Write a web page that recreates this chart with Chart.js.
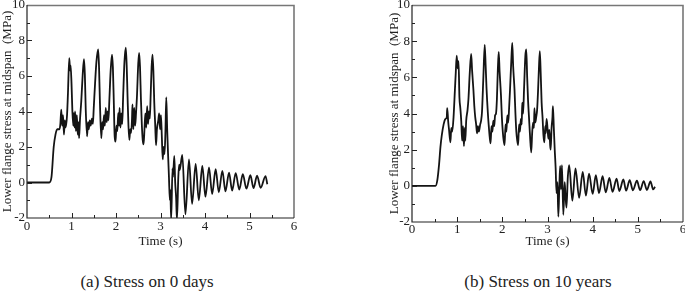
<!DOCTYPE html>
<html><head><meta charset="utf-8">
<script src="https://cdn.jsdelivr.net/npm/chart.js@4.4.1/dist/chart.umd.min.js"></script>
<style>
html,body{margin:0;padding:0;background:#fff;width:685px;height:297px;overflow:hidden;}
.wrap{position:absolute;top:0;width:300px;height:250px;}
.cap{position:absolute;top:272px;font-family:"Liberation Serif",serif;font-size:17px;color:#222;white-space:nowrap;transform:translateX(-50%);}
</style></head>
<body>
<div class="wrap" style="left:0"><canvas id="c0" width="300" height="250"></canvas></div>
<div class="wrap" style="left:385px"><canvas id="c1" width="300" height="250"></canvas></div>
<div class="cap" style="left:147px">(a) Stress on 0 days</div>
<div class="cap" style="left:538px">(b) Stress on 10 years</div>
<script>
const xTitle = 'Time (s)';
const yTitle = 'Lower flange stress at midspan  (MPa)';
const captions = ['(a) Stress on 0 days', '(b) Stress on 10 years'];
const xTicks = [0, 1, 2, 3, 4, 5, 6];
const yTicks = [-2, 0, 2, 4, 6, 8, 10];

// (a) 0 days
const time0 = [0,0.5,0.55,0.6,0.64,0.68,0.73,0.75,0.77,0.79,0.81,0.83,0.85,0.87,0.90,0.92,0.95,0.97,0.98,1.00,1.02,1.04,1.05,1.07,1.08,1.10,1.12,1.14,1.16,1.17,1.19,1.22,1.25,1.28,1.30,1.32,1.35,1.37,1.39,1.41,1.43,1.46,1.48,1.50,1.53,1.56,1.60,1.62,1.64,1.67,1.69,1.71,1.73,1.75,1.77,1.79,1.81,1.83,1.85,1.88,1.91,1.93,1.95,1.97,1.99,2.01,2.03,2.05,2.07,2.08,2.10,2.12,2.14,2.16,2.19,2.22,2.24,2.26,2.28,2.30,2.32,2.34,2.36,2.37,2.39,2.41,2.43,2.45,2.47,2.50,2.52,2.54,2.56,2.58,2.60,2.62,2.64,2.66,2.68,2.70,2.72,2.74,2.76,2.78,2.80,2.82,2.84,2.86,2.88,2.90,2.92,2.95,2.97,2.99,3.01,3.03,3.05,3.07,3.09,3.11,3.13,3.15,3.17,3.19,3.21,3.22,3.24,3.27,3.28,3.31,3.33,3.35,3.37,3.40,3.42,3.43,3.49,3.56,3.64,3.71,3.79,3.86,3.94,4.01,4.09,4.16,4.24,4.31,4.39,4.46,4.54,4.61,4.69,4.77,4.85,4.93,5.02,5.09,5.17,5.25,5.36,5.40];
const stress0 = [0,0,0.3,2.0,2.7,3.0,3.0,3.3,4.1,3.2,3.8,2.7,3.5,3.1,3.8,5.0,7.0,6.3,6.6,5.6,4.0,3.2,3.9,3.1,4.0,2.9,3.8,2.7,3.4,2.5,3.5,4.6,6.0,6.95,6.1,4.1,2.6,3.4,3.0,3.5,3.2,3.6,3.3,4.2,5.6,6.8,7.5,6.4,4.4,2.5,3.4,3.0,3.8,3.2,4.2,3.4,4.0,3.5,4.6,6.3,7.2,6.5,4.6,2.6,2.3,3.2,2.9,3.9,3.2,4.2,3.1,3.9,3.3,4.8,6.8,7.6,6.6,4.8,3.2,2.4,3.0,2.8,3.6,4.4,3.0,4.2,3.2,3.9,4.8,6.7,7.3,6.5,4.7,3.3,2.4,2.15,3.0,3.9,3.1,4.3,3.3,4.0,3.6,5.0,6.5,7.2,6.3,4.5,3.3,2.1,3.0,3.5,3.9,3.0,3.8,2.6,1.3,2.0,1.6,2.8,4.8,3.0,1.6,0.3,-1.0,-0.4,-2.1,0.8,0.3,1.5,0.0,-0.8,-2.1,0.3,1.0,0.7,1.55,-1.8,1.3,-1.2,1.05,-1.0,0.93,-0.8,0.85,-0.65,0.75,-0.55,0.66,-0.5,0.56,-0.45,0.53,-0.4,0.47,-0.35,0.41,-0.32,0.38,-0.3,0.36,-0.1];

// (b) 10 years
const time10 = [0,0.52,0.56,0.60,0.63,0.66,0.70,0.74,0.77,0.78,0.80,0.82,0.85,0.87,0.89,0.92,0.95,0.97,0.99,1.01,1.03,1.05,1.07,1.09,1.11,1.13,1.15,1.17,1.18,1.20,1.23,1.25,1.28,1.31,1.33,1.36,1.38,1.40,1.42,1.44,1.46,1.48,1.51,1.53,1.55,1.58,1.61,1.63,1.65,1.68,1.70,1.72,1.74,1.76,1.78,1.80,1.82,1.84,1.86,1.88,1.90,1.92,1.94,1.97,1.99,2.01,2.03,2.05,2.07,2.09,2.11,2.13,2.15,2.17,2.20,2.22,2.24,2.27,2.29,2.31,2.33,2.35,2.37,2.39,2.41,2.43,2.44,2.46,2.48,2.51,2.53,2.55,2.57,2.59,2.61,2.64,2.66,2.68,2.70,2.71,2.73,2.75,2.77,2.79,2.81,2.83,2.85,2.87,2.89,2.91,2.93,2.95,2.96,2.98,3.00,3.02,3.04,3.06,3.07,3.09,3.11,3.12,3.14,3.16,3.18,3.20,3.22,3.24,3.26,3.28,3.30,3.32,3.35,3.38,3.40,3.42,3.45,3.48,3.55,3.62,3.70,3.78,3.85,3.92,4.00,4.07,4.14,4.22,4.29,4.37,4.44,4.53,4.59,4.68,4.74,4.82,4.89,4.98,5.05,5.13,5.20,5.28,5.34,5.38];
const stress10 = [0,0,0.3,1.2,2.15,2.8,3.4,3.7,3.8,4.3,3.6,3.1,2.4,3.2,3.0,3.8,5.3,6.3,7.2,6.5,6.9,4.9,4.3,3.6,2.5,3.3,2.2,3.2,2.5,3.6,4.2,4.8,6.3,7.3,6.4,5.3,4.4,3.8,3.4,2.9,3.3,3.0,3.4,3.6,4.1,6.0,7.8,6.7,5.4,4.0,3.3,2.7,2.35,3.3,3.0,3.6,3.3,3.9,4.0,4.8,6.4,7.4,6.3,5.0,3.8,3.0,2.5,2.25,3.4,3.0,3.9,3.5,4.3,5.3,7.0,7.9,6.6,5.3,4.0,3.0,2.5,2.25,3.4,3.0,3.7,3.4,4.6,4.0,5.3,7.2,7.55,6.0,4.7,3.8,2.9,1.85,2.9,3.5,3.2,4.3,3.5,3.8,4.2,5.2,6.5,7.45,6.2,4.6,3.8,2.8,2.4,3.3,2.9,3.7,3.2,2.6,3.1,2.2,2.0,3.2,3.8,4.4,3.2,2.0,1.0,-0.4,0.2,-1.7,-0.2,1.1,-0.2,1.14,-1.6,0.2,-0.6,-1.2,0.5,1.14,-0.82,0.96,-0.67,0.77,-0.54,0.68,-0.45,0.59,-0.4,0.53,-0.36,0.44,-0.33,0.4,-0.29,0.35,-0.27,0.31,-0.25,0.28,-0.24,0.26,-0.23,0.24,-0.2,-0.05];

const serif = '"Liberation Serif", "Times New Roman", serif';

const framePlugin = {
  id: 'frame',
  afterDraw(chart) {
    const {ctx, chartArea: a, scales: {x, y}} = chart;
    ctx.save();
    ctx.strokeStyle = '#777';
    ctx.lineWidth = 1.6;
    ctx.beginPath();
    ctx.moveTo(a.left, a.top + 0.5); ctx.lineTo(a.right, a.top + 0.5); ctx.lineTo(a.right, a.bottom);
    ctx.stroke();
    ctx.strokeStyle = '#222';
    ctx.lineWidth = 1.2;
    ctx.beginPath();
    ctx.moveTo(a.left, a.top); ctx.lineTo(a.left, a.bottom); ctx.lineTo(a.right, a.bottom);
    ctx.stroke();
    ctx.lineWidth = 1;
    ctx.beginPath();
    const xt = x.ticks.map(t => t.value);
    for (let i = 0; i < xt.length; i++) {
      const v = xt[i];
      const px = Math.round(x.getPixelForValue(v)) + 0.5;
      if (i > 0 && i < xt.length - 1) { ctx.moveTo(px, a.bottom); ctx.lineTo(px, a.bottom - 5); }
      if (i < xt.length - 1) {
        const pm = Math.round(x.getPixelForValue((v + xt[i + 1]) / 2)) + 0.5;
        ctx.moveTo(pm, a.bottom); ctx.lineTo(pm, a.bottom - 3);
      }
    }
    const yt = y.ticks.map(t => t.value);
    for (let i = 0; i < yt.length; i++) {
      const v = yt[i];
      const py = Math.round(y.getPixelForValue(v)) + 0.5;
      if (i > 0 && i < yt.length - 1) { ctx.moveTo(a.left, py); ctx.lineTo(a.left + 5, py); }
      if (i < yt.length - 1) {
        const pm = Math.round(y.getPixelForValue((v + yt[i + 1]) / 2)) + 0.5;
        ctx.moveTo(a.left, pm); ctx.lineTo(a.left + 3, pm);
      }
    }
    ctx.stroke();
    ctx.restore();
  }
};

function makeChart(id, times, stress, cfg) {
  const pts = times.map((t, i) => ({x: t, y: stress[i]}));
  return new Chart(document.getElementById(id), {
    type: 'line',
    data: { datasets: [{ data: pts, borderColor: '#141414', borderWidth: 1.8, pointRadius: 0, cubicInterpolationMode: 'monotone', fill: false }] },
    options: {
      responsive: false, animation: false, devicePixelRatio: 1,
      layout: { padding: { top: 5, right: cfg.padRight, left: 0, bottom: 0 } },
      plugins: { legend: { display: false }, tooltip: { enabled: false } },
      scales: {
        x: {
          type: 'linear', min: 0, max: 6,
          grid: { display: false, drawTicks: false },
          border: { display: false },
          afterBuildTicks: s => { s.ticks = xTicks.map(v => ({value: v})); },
          ticks: { padding: cfg.xPad, color: '#222', font: { family: serif, size: 13 }, maxRotation: 0, autoSkip: false },
          title: { display: true, text: xTitle, color: '#222', font: { family: serif, size: 13 }, padding: { top: 0, bottom: 1 } },
          afterFit: s => { s.height = cfg.xHeight; s.paddingLeft = 0; s.paddingRight = 0; }
        },
        y: {
          type: 'linear', min: -2, max: 10,
          grid: { display: false, drawTicks: false },
          border: { display: false },
          afterBuildTicks: s => { s.ticks = yTicks.map(v => ({value: v})); },
          ticks: { padding: 2, color: '#222', font: { family: serif, size: 13 } },
          title: { display: true, text: yTitle, color: '#222', font: { family: serif, size: 13 }, padding: { top: cfg.yTitlePad, bottom: 0 } },
          afterFit: s => { s.width = 27; s.paddingTop = 0; s.paddingBottom = 0; }
        }
      }
    },
    plugins: [framePlugin]
  });
}

makeChart('c0', time0, stress0, { padRight: 6, xHeight: 32, xPad: 1, yTitlePad: 0 });
makeChart('c1', time10, stress10, { padRight: 2, xHeight: 28, xPad: 0, yTitlePad: 2 });
</script>
</body></html>
